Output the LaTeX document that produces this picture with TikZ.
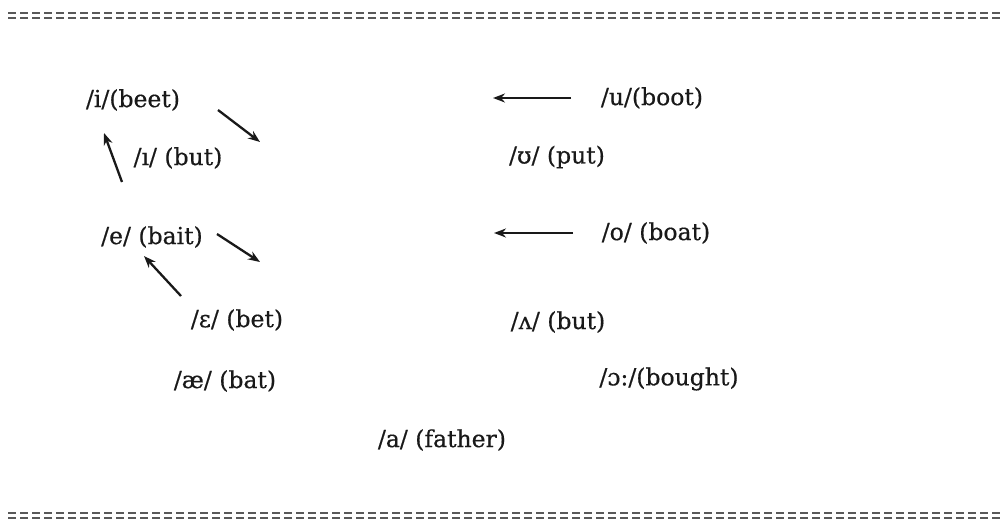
\documentclass[tikz,border=0pt]{standalone}
\usepackage{fontspec}
\setmainfont{DejaVu Serif}
\newfontfamily\lblfont{DejaVu Serif}[FakeBold=0.5]
\usetikzlibrary{arrows.meta}
\begin{document}
\begin{tikzpicture}[x=1pt,y=-1pt,
  lbl/.style={inner sep=0pt,font=\lblfont\fontsize{23.5}{26}\selectfont,text=black!90},
  arr/.style={-{Stealth[length=12pt,width=9pt]},line width=2.3pt,black!90},
  border/.style={line width=2.2pt,black!65,dash pattern=on 8pt off 4pt}]
\useasboundingbox (0,0) rectangle (1002,522);
% borders
\draw[border] (8,13) -- (1000,13);
\draw[border] (8,18) -- (1000,18);
\draw[border] (8,513) -- (1000,513);
\draw[border] (8,518) -- (1000,518);
% labels
\node[lbl] (i) at (133,100) {/i/(beet)};
\node[lbl] (I) at (178,158) {/ı/ (but)};
\node[lbl] (e) at (152,237) {/e/ (bait)};
\node[lbl] (E) at (237,320) {/ɛ/ (bet)};
\node[lbl] (ae) at (225,381) {/æ/ (bat)};
\node[lbl] (a) at (442,440) {/a/ (father)};
\node[lbl] (u) at (652,98) {/u/(boot)};
\node[lbl] (U) at (557,157) {/ʊ/ (put)};
\node[lbl] (o) at (656,233) {/o/ (boat)};
\node[lbl] (V) at (558,322) {/ʌ/ (but)};
\node[lbl] (O) at (669,379) {/ɔ:/(bought)};
% arrow end points
\coordinate (i1) at (218,110); \coordinate (i2) at (260,142);
\coordinate (I1) at (122,182); \coordinate (I2) at (104,133);
\coordinate (e1) at (217,234); \coordinate (e2) at (260,262);
\coordinate (E1) at (181,296); \coordinate (E2) at (144,256);
\coordinate (u1) at (571,98);  \coordinate (u2) at (493,98);
\coordinate (o1) at (573,233); \coordinate (o2) at (494,233);
\draw[arr] (i1) -- (i2);
\draw[arr] (I1) -- (I2);
\draw[arr] (e1) -- (e2);
\draw[arr] (E1) -- (E2);
\draw[arr] (u1) -- (u2);
\draw[arr] (o1) -- (o2);
\end{tikzpicture}
\end{document}
